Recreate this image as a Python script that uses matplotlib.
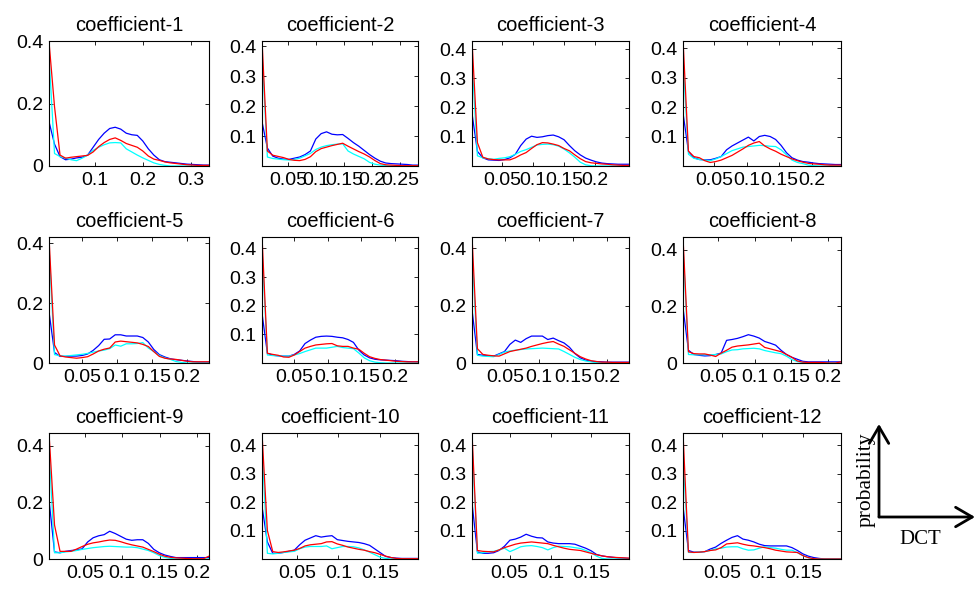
import numpy as np
import matplotlib
matplotlib.use('Agg')
import matplotlib.pyplot as plt

plt.rcParams['font.family'] = ['Liberation Sans', 'DejaVu Sans']

############################################################
# histogram data: 12 DCT coefficients, 3 classes each
# bin centres span [lo, hi] of each panel
TITLES = ['coefficient-%d' % k for k in range(1, 13)]
BIN_RANGE = [(0.004, 0.338), (0.003, 0.282), (0.002, 0.255), (0.002, 0.245),
             (0.002, 0.232), (0.002, 0.235), (0.002, 0.232), (0.002, 0.218),
             (0.002, 0.216), (0.008, 0.196), (0.004, 0.196), (0.002, 0.197)]
Y_TOP = [0.40, 0.417, 0.428, 0.424, 0.42, 0.44, 0.44, 0.445,
         0.445, 0.443, 0.443, 0.443]

BLUE = [
 [0.142,0.07,0.03,0.02,0.022,0.026,0.028,0.035,0.06,0.085,0.105,0.12,0.124,0.118,0.105,0.10,0.098,0.08,0.055,0.035,0.02,0.014,0.012,0.01,0.008,0.006,0.005,0.004,0.003,0.003],
 [0.148,0.06,0.033,0.026,0.023,0.022,0.026,0.03,0.038,0.05,0.09,0.108,0.114,0.106,0.104,0.105,0.092,0.078,0.066,0.052,0.038,0.026,0.016,0.01,0.008,0.007,0.006,0.005,0.003,0.003],
 [0.18,0.05,0.028,0.021,0.02,0.019,0.022,0.028,0.04,0.07,0.092,0.102,0.098,0.1,0.104,0.106,0.1,0.09,0.07,0.052,0.038,0.027,0.02,0.014,0.01,0.008,0.007,0.006,0.006,0.006],
 [0.18,0.05,0.028,0.022,0.021,0.021,0.026,0.032,0.055,0.068,0.078,0.088,0.098,0.085,0.1,0.104,0.1,0.09,0.07,0.045,0.028,0.02,0.015,0.013,0.01,0.008,0.007,0.006,0.005,0.005],
 [0.171,0.035,0.022,0.022,0.023,0.023,0.025,0.03,0.042,0.058,0.079,0.08,0.094,0.094,0.09,0.09,0.09,0.085,0.07,0.045,0.028,0.02,0.014,0.011,0.009,0.007,0.005,0.003,0.003,0.003],
 [0.174,0.034,0.027,0.025,0.024,0.024,0.03,0.042,0.068,0.08,0.09,0.093,0.094,0.093,0.09,0.088,0.082,0.072,0.045,0.028,0.018,0.013,0.011,0.01,0.009,0.008,0.006,0.005,0.004,0.004],
 [0.186,0.03,0.027,0.025,0.024,0.032,0.04,0.065,0.08,0.072,0.085,0.094,0.094,0.094,0.082,0.087,0.078,0.07,0.055,0.033,0.018,0.01,0.006,0.005,0.004,0.003,0.003,0.003,0.003,0.003],
 [0.195,0.045,0.03,0.027,0.025,0.026,0.03,0.035,0.08,0.083,0.087,0.093,0.1,0.095,0.088,0.076,0.07,0.063,0.045,0.03,0.02,0.013,0.006,0.004,0.004,0.004,0.004,0.004,0.004,0.004],
 [0.21,0.025,0.022,0.027,0.03,0.032,0.036,0.06,0.075,0.082,0.086,0.098,0.09,0.08,0.07,0.066,0.068,0.068,0.055,0.034,0.022,0.014,0.009,0.005,0.005,0.005,0.005,0.005,0.005,0.005],
 [0.185,0.06,0.02,0.02,0.023,0.027,0.031,0.05,0.066,0.074,0.082,0.077,0.08,0.082,0.068,0.065,0.062,0.06,0.058,0.054,0.048,0.035,0.022,0.009,0.005,0.003,0.002,0.002,0.002,0.002],
 [0.197,0.025,0.02,0.02,0.022,0.03,0.045,0.066,0.07,0.077,0.087,0.08,0.075,0.074,0.06,0.056,0.054,0.054,0.054,0.052,0.045,0.038,0.029,0.016,0.011,0.008,0.006,0.004,0.003,0.002],
 [0.185,0.03,0.024,0.024,0.026,0.035,0.042,0.055,0.066,0.076,0.082,0.07,0.066,0.06,0.052,0.047,0.046,0.046,0.046,0.046,0.04,0.03,0.018,0.01,0.005,0.002,0,0,0,0],
]
RED = [
 [0.398,0.19,0.035,0.025,0.028,0.03,0.032,0.034,0.045,0.062,0.075,0.085,0.09,0.082,0.072,0.066,0.06,0.048,0.032,0.022,0.018,0.013,0.01,0.008,0.006,0.004,0.003,0.002,0.002,0.002],
 [0.42,0.05,0.036,0.032,0.028,0.022,0.019,0.018,0.022,0.031,0.048,0.058,0.063,0.068,0.072,0.076,0.066,0.057,0.048,0.04,0.03,0.018,0.008,0.004,0.003,0.002,0.001,0.001,0.001,0.001],
 [0.43,0.08,0.03,0.024,0.022,0.021,0.021,0.021,0.028,0.038,0.046,0.06,0.073,0.08,0.079,0.075,0.07,0.06,0.052,0.038,0.025,0.015,0.011,0.009,0.007,0.006,0.004,0.003,0.002,0.002],
 [0.43,0.05,0.032,0.028,0.018,0.012,0.015,0.02,0.028,0.036,0.047,0.058,0.07,0.078,0.083,0.068,0.058,0.05,0.04,0.032,0.024,0.018,0.013,0.009,0.007,0.006,0.004,0.003,0.003,0.003],
 [0.419,0.06,0.024,0.02,0.018,0.016,0.018,0.021,0.03,0.04,0.046,0.05,0.07,0.073,0.071,0.069,0.067,0.062,0.055,0.038,0.022,0.016,0.013,0.012,0.009,0.006,0.004,0.004,0.004,0.004],
 [0.443,0.034,0.03,0.027,0.021,0.02,0.028,0.04,0.052,0.058,0.063,0.065,0.067,0.068,0.06,0.058,0.058,0.052,0.048,0.034,0.022,0.016,0.012,0.01,0.008,0.006,0.005,0.004,0.004,0.004],
 [0.443,0.05,0.03,0.027,0.025,0.024,0.032,0.04,0.044,0.048,0.052,0.058,0.063,0.068,0.072,0.075,0.066,0.058,0.046,0.034,0.022,0.014,0.008,0.005,0.003,0.003,0.002,0.002,0.002,0.002],
 [0.445,0.04,0.033,0.032,0.032,0.028,0.023,0.035,0.045,0.056,0.06,0.062,0.064,0.067,0.07,0.055,0.05,0.045,0.04,0.03,0.02,0.007,0.003,0.002,0.002,0.002,0.001,0,0,0.004],
 [0.445,0.12,0.027,0.027,0.027,0.035,0.044,0.052,0.057,0.06,0.064,0.067,0.066,0.061,0.055,0.05,0.046,0.042,0.034,0.026,0.017,0.01,0.006,0.004,0.003,0.002,0.001,0.001,0.001,0.01],
 [0.443,0.1,0.026,0.023,0.025,0.028,0.031,0.037,0.046,0.05,0.052,0.054,0.06,0.061,0.053,0.048,0.042,0.038,0.034,0.031,0.026,0.022,0.016,0.01,0.005,0.002,0.001,0.001,0.001,0.001],
 [0.443,0.03,0.027,0.026,0.025,0.032,0.04,0.046,0.052,0.056,0.058,0.06,0.058,0.056,0.054,0.048,0.043,0.038,0.034,0.032,0.03,0.025,0.02,0.015,0.011,0.008,0.006,0.005,0.004,0.003],
 [0.443,0.025,0.023,0.024,0.026,0.03,0.032,0.04,0.053,0.055,0.057,0.052,0.048,0.046,0.043,0.04,0.036,0.031,0.028,0.025,0.024,0.023,0.012,0.005,0.001,0,0,0,0,0],
]
CYAN = [
 [0.355,0.04,0.03,0.025,0.02,0.017,0.025,0.035,0.05,0.06,0.068,0.074,0.075,0.074,0.055,0.045,0.035,0.026,0.018,0.01,0.005,0.002,0,0,0,0,0,0,0,0],
 [0.381,0.03,0.025,0.023,0.021,0.02,0.022,0.026,0.034,0.042,0.055,0.063,0.068,0.071,0.073,0.074,0.05,0.04,0.032,0.024,0.012,0.006,0.003,0.001,0,0,0,0,0,0],
 [0.363,0.035,0.028,0.025,0.023,0.026,0.028,0.032,0.04,0.05,0.056,0.064,0.072,0.074,0.075,0.073,0.068,0.058,0.045,0.03,0.013,0.004,0.001,0,0,0,0,0,0,0],
 [0.362,0.04,0.026,0.022,0.02,0.018,0.024,0.032,0.042,0.052,0.058,0.064,0.066,0.068,0.07,0.069,0.067,0.066,0.055,0.038,0.02,0.012,0.008,0.003,0.001,0,0,0,0,0],
 [0.388,0.028,0.024,0.023,0.025,0.027,0.029,0.032,0.036,0.04,0.043,0.048,0.06,0.056,0.064,0.064,0.065,0.068,0.05,0.038,0.025,0.017,0.012,0.005,0.002,0,0,0,0,0],
 [0.396,0.028,0.026,0.025,0.024,0.024,0.028,0.033,0.04,0.046,0.052,0.052,0.052,0.055,0.058,0.054,0.052,0.05,0.035,0.018,0.008,0.003,0.001,0,0,0,0,0,0,0],
 [0.396,0.027,0.024,0.023,0.022,0.03,0.038,0.042,0.045,0.047,0.049,0.05,0.051,0.052,0.051,0.05,0.049,0.04,0.03,0.02,0.012,0.007,0.004,0.001,0,0,0,0,0,0],
 [0.41,0.03,0.029,0.029,0.029,0.029,0.03,0.032,0.04,0.046,0.047,0.05,0.051,0.052,0.05,0.044,0.04,0.036,0.033,0.024,0.012,0.005,0.002,0,0,0,0,0,0,0],
 [0.395,0.022,0.022,0.025,0.027,0.03,0.034,0.037,0.04,0.042,0.044,0.045,0.044,0.043,0.042,0.042,0.04,0.035,0.03,0.022,0.012,0.006,0.002,0,0,0,0,0,0,0],
 [0.398,0.02,0.018,0.02,0.023,0.025,0.027,0.036,0.042,0.044,0.044,0.044,0.046,0.036,0.04,0.044,0.044,0.043,0.039,0.032,0.024,0.015,0.006,0.002,0,0,0,0,0,0],
 [0.41,0.02,0.022,0.026,0.027,0.032,0.038,0.026,0.034,0.043,0.046,0.047,0.044,0.04,0.032,0.04,0.045,0.044,0.043,0.04,0.037,0.03,0.022,0.01,0.002,0,0,0,0,0],
 [0.363,0.023,0.023,0.024,0.026,0.03,0.036,0.038,0.042,0.043,0.043,0.036,0.031,0.032,0.038,0.043,0.04,0.038,0.034,0.031,0.031,0.022,0.012,0.005,0,0,0,0,0,0],
]

YT_A = [0, 0.2, 0.4]
YT_B = [0.1, 0.2, 0.3, 0.4]
Y_TICKS = [YT_A, YT_B, YT_B, YT_B, YT_A, YT_B, YT_A, YT_A, YT_A, YT_B, YT_B, YT_B]
XT_1 = ['0.1', '0.2', '0.3']
XT_2 = ['0.05', '0.1', '0.15', '0.2', '0.25']
XT_3 = ['0.05', '0.1', '0.15', '0.2']
XT_4 = ['0.05', '0.1', '0.15']
X_TICKS = [XT_1, XT_2, XT_3, XT_3, XT_3, XT_3, XT_3, XT_3, XT_3, XT_4, XT_4, XT_4]

#############################################################
W, H = 975, 589
fig = plt.figure(figsize=(W/100, H/100), dpi=100)
LEFTS = [49, 262, 472, 683]
RIGHTS = [209, 418, 629, 841]
TOPS = [41, 237, 433]
BOTTOMS = [166, 363, 559]

for k in range(12):
    r, c = k // 4, k % 4
    ax = fig.add_axes([LEFTS[c]/W, 1 - BOTTOMS[r]/H,
                       (RIGHTS[c]-LEFTS[c])/W, (BOTTOMS[r]-TOPS[r])/H])
    lo, hi = BIN_RANGE[k]
    x = np.linspace(lo, hi, len(BLUE[k]))
    ax.plot(x, BLUE[k], color='blue', lw=0.9)
    ax.plot(x, CYAN[k], color='cyan', lw=0.9)
    ax.plot(x, RED[k], color='red', lw=0.9)
    ax.set_xlim(lo, hi)
    ax.set_ylim(0, Y_TOP[k])
    xt = [float(s) for s in X_TICKS[k]]
    ax.set_xticks(xt)
    ax.set_xticklabels(X_TICKS[k])
    ax.set_yticks(Y_TICKS[k])
    ax.set_yticklabels(['%g' % v for v in Y_TICKS[k]])
    ax.tick_params(direction='in', length=3, width=0.6, top=True, right=True,
                   labelsize=14, pad=4)
    for s in ax.spines.values():
        s.set_linewidth(0.8)
    ax.set_title(TITLES[k], fontsize=14.5, pad=7)

# axis sketch at the right
arrow = dict(arrowstyle='->,head_length=0.6,head_width=0.35', lw=2,
             color='black', mutation_scale=20, shrinkA=0, shrinkB=0)
origin = (879, H - 517)
plt.annotate('', xy=(879, H - 424), xytext=origin, xycoords='figure pixels',
             textcoords='figure pixels', arrowprops=arrow)
plt.annotate('', xy=(975, H - 517), xytext=origin, xycoords='figure pixels',
             textcoords='figure pixels', arrowprops=arrow)
fig.text(866/W, 1 - 480/H, 'probability', rotation=90, ha='center',
         va='center', fontsize=15.5, family=['Liberation Serif', 'DejaVu Serif'])
fig.text(920/W, 1 - 540/H, 'DCT', ha='center', va='center', fontsize=15,
         family=['Liberation Serif', 'DejaVu Serif'])

plt.savefig('out.png', dpi=100)
